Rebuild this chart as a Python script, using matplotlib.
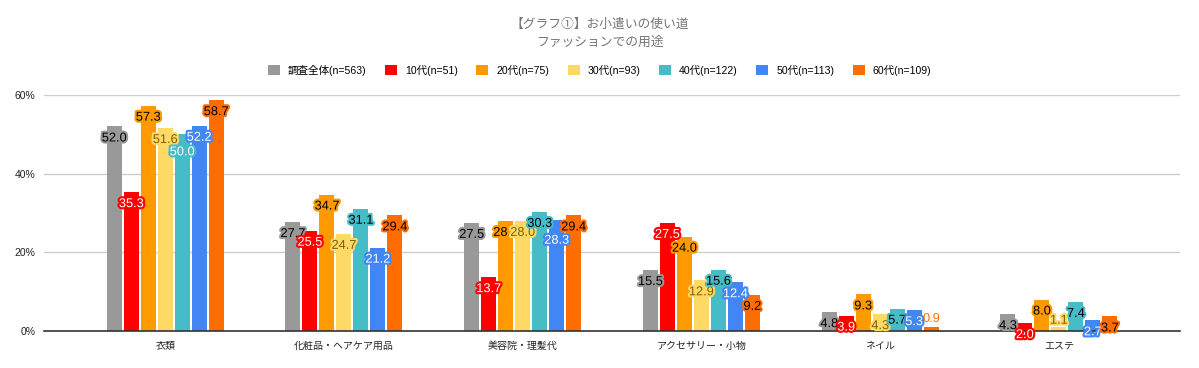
import matplotlib
matplotlib.use("Agg")
import matplotlib.pyplot as plt
import matplotlib.patheffects as pe
import numpy as np

plt.rcParams['font.family'] = ['Liberation Sans', 'Noto Sans CJK JP', 'DejaVu Sans']

title_lines = ["【グラフ①】お小遣いの使い道", "ファッションでの用途"]
categories = ["衣類", "化粧品・ヘアケア用品", "美容院・理髪代", "アクセサリー・小物", "ネイル", "エステ"]
series_names = ["調査全体(n=563)", "10代(n=51)", "20代(n=75)", "30代(n=93)", "40代(n=122)", "50代(n=113)", "60代(n=109)"]
total = [52.0, 27.7, 27.5, 15.5, 4.8, 4.3]
teens = [35.3, 25.5, 13.7, 27.5, 3.9, 2.0]
twenties = [57.3, 34.7, 28.0, 24.0, 9.3, 8.0]
thirties = [51.6, 24.7, 28.0, 12.9, 4.3, 1.1]
forties = [50.0, 31.1, 30.3, 15.6, 5.7, 7.4]
fifties = [52.2, 21.2, 28.3, 12.4, 5.3, 2.7]
sixties = [58.7, 29.4, 29.4, 9.2, 0.9, 3.7]
yticks = [0, 20, 40, 60]

series = [total, teens, twenties, thirties, forties, fifties, sixties]
colors = ["#999999", "#ff0000", "#ff9900", "#ffd966", "#46bdc6", "#4285f4", "#ff6d01"]
text_colors = ["#000000", "#ffffff", "#000000", "#7f6000", "#000000", "#ffffff", "#000000"]

# label offsets (pixels, negative = below bar top) for special cases
special_offsets = {(4, 0): -18, (5, 2): -21, (3, 5): 6, (6, 4): 8}

fig = plt.figure(figsize=(11.99, 3.68), dpi=100)
ax = fig.add_axes([44/1199, 1-331/368, (1180-44)/1199, (331-95)/368])

x = np.arange(len(categories))
pitch = 0.095
width = 0.084
n = len(series)
for i, (vals, col) in enumerate(zip(series, colors)):
    xs = x + (i - (n-1)/2) * pitch
    ax.bar(xs, vals, width=width, color=col, label=series_names[i], zorder=3)
    for j, (xx, v) in enumerate(zip(xs, vals)):
        tc = text_colors[i]
        halo = col
        off = special_offsets.get((i, j), -12)
        if i == 4 and j == 0:
            tc = "#ffffff"
        if i == 6 and j == 4:
            tc = col
            halo = None
        t = ax.annotate(f"{v:.1f}", (xx, v), xytext=(0, off * 0.72), textcoords="offset points",
                        ha="center", va="center", fontsize=9.2, color=tc, zorder=5,
                        annotation_clip=False)
        if halo:
            t.set_path_effects([pe.withStroke(linewidth=3, foreground=halo)])

ax.set_ylim(0, 60)
ax.set_xlim(-0.678, len(categories) - 1 + 0.678)
ax.set_yticks(yticks)
ax.set_yticklabels([f"{v}%" for v in yticks], fontsize=7.5, color="#222222")
ax.set_xticks(x)
ax.set_xticklabels(categories, fontsize=7.2, color="#222222")
ax.tick_params(axis="both", length=0)
ax.tick_params(axis="y", pad=6)
ax.tick_params(axis="x", pad=7)
ax.grid(axis="y", color="#cccccc", linewidth=1, zorder=0)
for s in ["top", "right", "left"]:
    ax.spines[s].set_visible(False)
ax.spines["bottom"].set_color("#333333")
ax.spines["bottom"].set_linewidth(1.2)
ax.spines["bottom"].set_zorder(4)

fig.text(0.5, 1 - 25/368, title_lines[0], ha="center", va="center", fontsize=9.2, color="#757575")
fig.text(0.5, 1 - 43/368, title_lines[1], ha="center", va="center", fontsize=9.2, color="#757575")

fig.legend(loc="center", bbox_to_anchor=(0.5, 1 - 70/368), ncol=7, frameon=False,
           fontsize=7.6, handlelength=1.15, handleheight=1.1, handletextpad=0.75,
           columnspacing=1.75)

fig.savefig("out.png", dpi=100)
